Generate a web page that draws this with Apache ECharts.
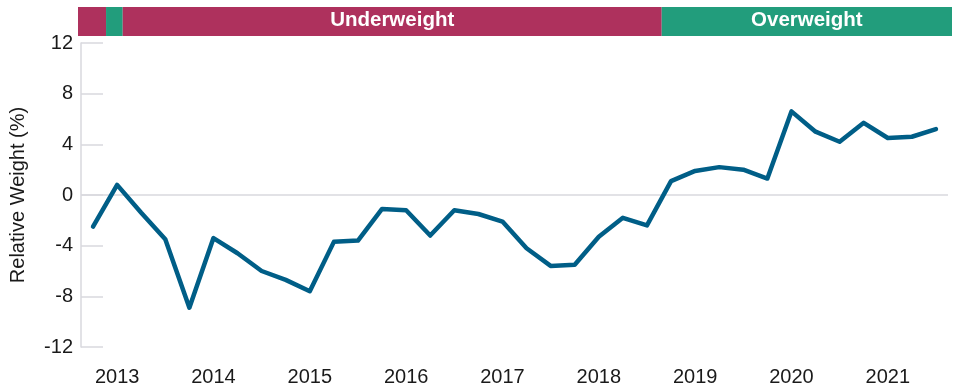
<!DOCTYPE html>
<html>
<head>
<meta charset="utf-8">
<script src="https://cdn.jsdelivr.net/npm/echarts@6/dist/echarts.min.js"></script>
<style>html,body{margin:0;padding:0;background:#fff}#c{width:960px;height:390px}</style>
</head>
<body>
<div id="c"></div>
<script>
// Quarterly periods (Q4 2012 .. Q3 2021)
const quarters = ["2012Q4",
  "2013Q1","2013Q2","2013Q3","2013Q4",
  "2014Q1","2014Q2","2014Q3","2014Q4",
  "2015Q1","2015Q2","2015Q3","2015Q4",
  "2016Q1","2016Q2","2016Q3","2016Q4",
  "2017Q1","2017Q2","2017Q3","2017Q4",
  "2018Q1","2018Q2","2018Q3","2018Q4",
  "2019Q1","2019Q2","2019Q3","2019Q4",
  "2020Q1","2020Q2","2020Q3","2020Q4",
  "2021Q1","2021Q2","2021Q3"];
const relativeWeight = [-2.5,
  0.8,-1.4,-3.5,-8.9,
  -3.4,-4.6,-6.0,-6.7,
  -7.6,-3.7,-3.6,-1.1,
  -1.2,-3.2,-1.2,-1.5,
  -2.1,-4.2,-5.6,-5.5,
  -3.3,-1.8,-2.4,1.1,
  1.9,2.2,2.0,1.3,
  6.6,5.0,4.2,5.7,
  4.5,4.6,5.2];
const yTicks = [-12, 12, 4]; // min, max, interval
// Regime band segments in quarter-index units
const regimeStart = [-0.5, 0.66, 1.35, 23.65];
const regimeEnd   = [0.66, 1.35, 23.65, 35.66];
const regimeLabel = ["", "", "Underweight", "Overweight"];
const regimeKind  = ["under", "over", "under", "over"];

const COLORS = {under: "#AE315D", over: "#229D7C", line: "#005E87", grid: "#D9D9DE"};
const FONT = "Liberation Sans, Arial, Helvetica, sans-serif";

const chart = echarts.init(document.getElementById('c'), null, {renderer: 'canvas'});
const bandData = regimeStart.map((s, i) => [s, regimeEnd[i]]);

chart.setOption({
  animation: false,
  grid: [
    {left: 78, right: 12, top: 43, bottom: 43},
    {left: 78, right: 8, top: 7, height: 29}
  ],
  xAxis: [
    {
      type: 'category', gridIndex: 0, data: quarters, boundaryGap: true,
      axisLine: {show: false}, axisTick: {show: false},
      axisLabel: {
        interval: 0, margin: 20, color: '#1a1a1a', fontSize: 20, fontFamily: FONT,
        formatter: (v) => v.endsWith('Q1') ? v.slice(0, 4) : ''
      },
      splitLine: {show: false}
    },
    {
      type: 'value', gridIndex: 1, min: regimeStart[0], max: regimeEnd[regimeEnd.length - 1],
      show: false
    }
  ],
  yAxis: [
    {
      type: 'value', gridIndex: 0, min: yTicks[0], max: yTicks[1], interval: yTicks[2],
      name: 'Relative Weight (%)', nameLocation: 'middle', nameGap: 53, nameRotate: 90,
      nameTextStyle: {color: '#1a1a1a', fontSize: 20, fontFamily: FONT},
      axisLine: {show: true, lineStyle: {color: COLORS.grid, width: 1.5}},
      axisTick: {show: true, inside: true, length: 22, lineStyle: {color: COLORS.grid, width: 1.5}},
      axisLabel: {color: '#1a1a1a', fontSize: 20, fontFamily: FONT, margin: 8},
      splitLine: {show: false}
    },
    {type: 'value', gridIndex: 1, min: 0, max: 1, show: false}
  ],
  series: [
    {
      type: 'line', xAxisIndex: 0, yAxisIndex: 0, data: relativeWeight,
      symbol: 'none', z: 5,
      lineStyle: {color: COLORS.line, width: 4.5, join: 'round', cap: 'round'},
      markLine: {
        silent: true, symbol: 'none', label: {show: false}, z: 1,
        lineStyle: {color: COLORS.grid, width: 1.5, type: 'solid'},
        data: [{yAxis: 0}]
      }
    },
    {
      type: 'custom', xAxisIndex: 1, yAxisIndex: 1, data: bandData,
      encode: {x: [0, 1]},
      renderItem: function (params, api) {
        const idx = params.dataIndex;
        const p0 = api.coord([api.value(0), 1]);
        const p1 = api.coord([api.value(1), 0]);
        return {
          type: 'group',
          children: [
            {type: 'rect', shape: {x: p0[0], y: p0[1], width: p1[0] - p0[0], height: p1[1] - p0[1]},
             style: {fill: COLORS[regimeKind[idx]]}},
            {type: 'text', x: (p0[0] + p1[0]) / 2, y: (p0[1] + p1[1]) / 2 - 1,
             style: {text: regimeLabel[idx], fill: '#fff', fontSize: 20.5, fontWeight: 'bold', fontFamily: FONT,
                     align: 'center', verticalAlign: 'middle'}}
          ]
        };
      }
    }
  ]
});
</script>
</body>
</html>
